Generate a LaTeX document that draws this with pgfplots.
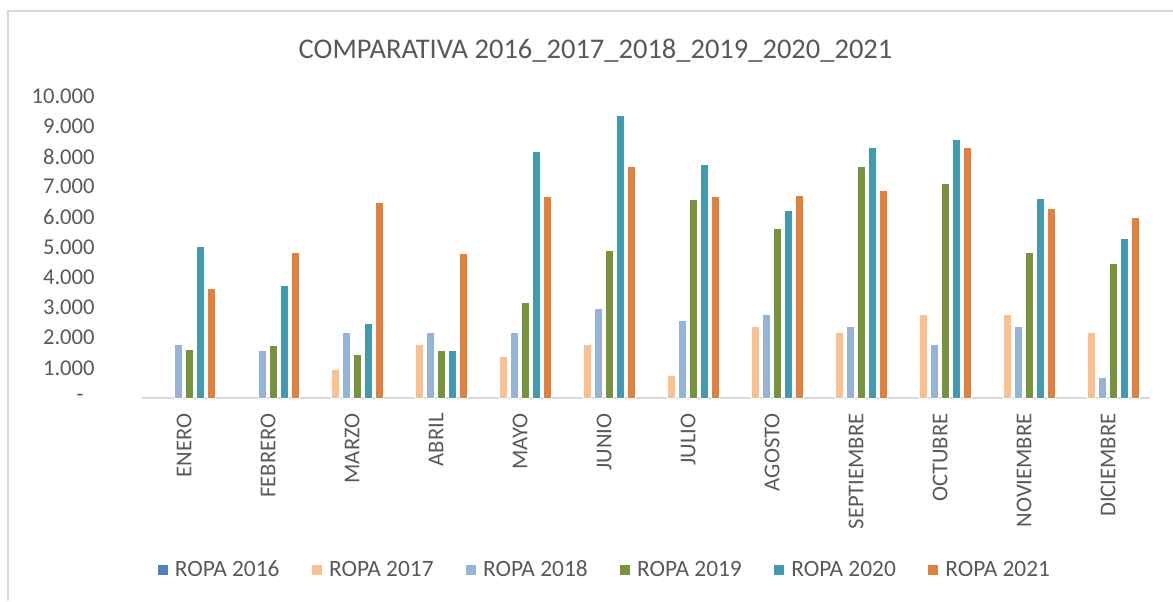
\documentclass[border=0pt]{standalone}
\usepackage{pgfplots}
\usepackage{pgfplotstable}
\pgfplotsset{compat=1.18}
\usepackage{fontspec}
\setmainfont{Carlito}
\definecolor{txt}{HTML}{595959}
\definecolor{frame}{HTML}{D9D9D9}
\definecolor{c16}{HTML}{4F81BD}
\definecolor{c17}{HTML}{FAC090}
\definecolor{c18}{HTML}{95B3D7}
\definecolor{c19}{HTML}{77933C}
\definecolor{c20}{HTML}{4299B0}
\definecolor{c21}{HTML}{E0823D}
\pgfplotstableread{
x r2016 r2017 r2018 r2019 r2020 r2021
0  0 nan  1780 1610 5030 3640
1  0 nan  1570 1730 3730 4820
2  0 950  2180 1450 2470 6490
3  0 1780 2180 1570 1570 4790
4  0 1360 2180 3160 8170 6660
5  0 1770 2950 4900 9350 7670
6  0 750  2580 6580 7720 6660
7  0 2370 2750 5600 6210 6700
8  0 2180 2370 7670 8290 6870
9  0 2750 1780 7110 8570 8290
10 0 2750 2370 4820 6610 6290
11 0 2180 670  4460 5280 5970
}\datatable
\begin{document}
\begin{tikzpicture}
\useasboundingbox (0,0) rectangle (586.5pt,300.5pt);
\draw[frame, line width=1pt] (4pt,0) -- (4pt,295pt) -- (586.5pt,295pt);
\begin{axis}[
  at={(71pt,101.5pt)}, anchor=south west,
  scale only axis, width=504pt, height=151pt,
  ybar=1.1pt, bar width=4.4pt,
  xmin=-0.5, xmax=11.5, ymin=0, ymax=10000,
  unbounded coords=discard,
  scaled y ticks=false,
  axis x line*=bottom, axis y line*=left,
  x axis line style={draw=frame, line width=1pt, -},
  y axis line style={draw=none},
  major tick length=0pt,
  xtick={0,...,11},
  xticklabels={ENERO,FEBRERO,MARZO,ABRIL,MAYO,JUNIO,JULIO,AGOSTO,SEPTIEMBRE,OCTUBRE,NOVIEMBRE,DICIEMBRE},
  xticklabel style={rotate=90, anchor=east, inner sep=0pt, font=\fontsize{11.3pt}{13pt}\selectfont, text=txt},
  xticklabel shift=7.5pt,
  ytick={1000,2000,...,10000},
  yticklabels={1.000,2.000,3.000,4.000,5.000,6.000,7.000,8.000,9.000,10.000},
  extra y ticks={0},
  extra y tick labels={-},
  extra y tick style={yticklabel style={xshift=-5.5pt}},
  yticklabel style={anchor=east, inner sep=0pt, font=\fontsize{11.3pt}{13pt}\selectfont, text=txt},
  yticklabel shift=23.5pt,
  /pgf/number format/assume math mode=true,
  every axis title shift=0pt,
  title={COMPARATIVA 2016\_2017\_2018\_2019\_2020\_2021},
  title style={at={(rel axis cs:0.4499,1.15)}, anchor=center, inner sep=0pt, font=\fontsize{14.25pt}{16pt}\selectfont, text=txt},
  legend columns=6,
  legend style={at={(rel axis cs:0.4603,-0.5695)}, anchor=center, draw=none, fill=none,
    font=\fontsize{11.7pt}{13pt}\selectfont, text=txt,
    /tikz/every even column/.append style={column sep=14pt}},
  legend image code/.code={\fill[#1, draw=none, fill opacity=1] (0pt,-2.5pt) rectangle (5pt,2.5pt); \path (6.5pt,0pt);},
  every axis plot/.append style={draw=white, line width=0.5pt},
]
\addplot[fill=c16, draw=none, fill opacity=0] table[x=x, y=r2016] {\datatable};
\addplot[fill=c17] table[x=x, y=r2017] {\datatable};
\addplot[fill=c18] table[x=x, y=r2018] {\datatable};
\addplot[fill=c19] table[x=x, y=r2019] {\datatable};
\addplot[fill=c20] table[x=x, y=r2020] {\datatable};
\addplot[fill=c21] table[x=x, y=r2021] {\datatable};
\legend{ROPA 2016,ROPA 2017,ROPA 2018,ROPA 2019,ROPA 2020,ROPA 2021}
\end{axis}
\end{tikzpicture}
\end{document}
